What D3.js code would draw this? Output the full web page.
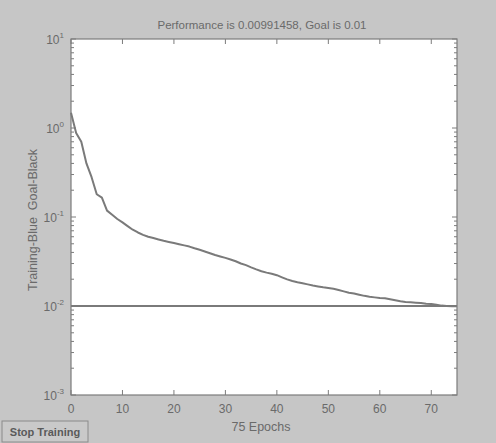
<!DOCTYPE html>
<html>
<head>
<meta charset="utf-8">
<script src="https://cdn.jsdelivr.net/npm/d3@7"></script>
<style>
  html, body { margin: 0; padding: 0; background: #c6c6c6; }
  svg { display: block; }
  text { font-family: "Liberation Sans", Arial, sans-serif; fill: #6a6a6a; white-space: pre; }
</style>
</head>
<body>
<script>
// Training performance per epoch (mean squared error)
const epochs = d3.range(0, 76);
const performance = [
  1.48, 0.88, 0.70, 0.40, 0.28, 0.18, 0.165, 0.118, 0.106, 0.095,
  0.087, 0.079, 0.072, 0.067, 0.063, 0.060, 0.058, 0.056, 0.054, 0.0525,
  0.0510, 0.0495, 0.0480, 0.0465, 0.0445, 0.0428, 0.0410, 0.0392, 0.0374, 0.0360,
  0.0347, 0.0333, 0.0318, 0.0300, 0.0288, 0.0272, 0.0258, 0.0246, 0.0237, 0.0230,
  0.0222, 0.0210, 0.0199, 0.0191, 0.0185, 0.0180, 0.0175, 0.0170, 0.0166, 0.0162,
  0.0159, 0.0156, 0.0151, 0.0146, 0.0141, 0.0138, 0.0134, 0.0130, 0.0127, 0.0125,
  0.0123, 0.0122, 0.0119, 0.0116, 0.0113, 0.0111, 0.0110, 0.0109, 0.0108, 0.0106,
  0.0105, 0.0103, 0.0101, 0.0100, 0.00995, 0.00991458
];
const goal = 0.01;
const xTicks = [0, 10, 20, 30, 40, 50, 60, 70];
const yExponents = [1, 0, -1, -2, -3];
const titleText = "Performance is 0.00991458, Goal is 0.01";
const xLabelText = "75 Epochs";
const yLabelText = "Training-Blue  Goal-Black";
const buttonText = "Stop Training";

const W = 496, H = 443;
const m = { left: 71, right: 39, top: 39, bottom: 48 };
const pw = W - m.left - m.right, ph = H - m.top - m.bottom;

const svg = d3.select("body").append("svg").attr("width", W).attr("height", H);

const x = d3.scaleLinear().domain([0, 75]).range([m.left, m.left + pw]);
const y = d3.scaleLog().domain([1e-3, 1e1]).range([m.top + ph, m.top]);

const axisColor = "#7c7c7c";
const lineColor = "#7a7a7a";

// plot area
svg.append("rect")
  .attr("x", m.left).attr("y", m.top).attr("width", pw).attr("height", ph)
  .attr("fill", "#ffffff").attr("stroke", axisColor).attr("stroke-width", 1.2);

// log-axis minor ticks (left and right, pointing inward)
const minor = [];
for (let e = -3; e < 1; e++) for (let k = 2; k <= 9; k++) minor.push(k * Math.pow(10, e));
const tickG = svg.append("g").attr("stroke", axisColor).attr("stroke-width", 1);
minor.forEach(v => {
  tickG.append("line").attr("x1", m.left).attr("x2", m.left + 3).attr("y1", y(v)).attr("y2", y(v));
  tickG.append("line").attr("x1", m.left + pw).attr("x2", m.left + pw - 3).attr("y1", y(v)).attr("y2", y(v));
});
yExponents.forEach(e => {
  const v = Math.pow(10, e);
  tickG.append("line").attr("x1", m.left).attr("x2", m.left + 5).attr("y1", y(v)).attr("y2", y(v));
  tickG.append("line").attr("x1", m.left + pw).attr("x2", m.left + pw - 5).attr("y1", y(v)).attr("y2", y(v));
});
xTicks.forEach(t => {
  tickG.append("line").attr("x1", x(t)).attr("x2", x(t)).attr("y1", m.top + ph).attr("y2", m.top + ph - 5);
  tickG.append("line").attr("x1", x(t)).attr("x2", x(t)).attr("y1", m.top).attr("y2", m.top + 5);
});

// y tick labels as 10 with superscript exponent
yExponents.forEach(e => {
  const v = Math.pow(10, e);
  const t = svg.append("text")
    .attr("x", m.left - 7).attr("y", y(v) + 5)
    .attr("text-anchor", "end").attr("font-size", 12);
  t.append("tspan").text("10");
  t.append("tspan").attr("dy", -6).attr("font-size", 8).text(e);
});

// x tick labels
svg.append("g").selectAll("text").data(xTicks).join("text")
  .attr("x", d => x(d)).attr("y", m.top + ph + 18)
  .attr("text-anchor", "middle").attr("font-size", 12)
  .text(d => d);

// goal line
svg.append("path")
  .datum([0, 75])
  .attr("fill", "none").attr("stroke", lineColor).attr("stroke-width", 2)
  .attr("d", d3.line().x(d => x(d)).y(() => y(goal)));

// training curve
svg.append("path")
  .datum(epochs.map((e, i) => [e, performance[i]]))
  .attr("fill", "none").attr("stroke", lineColor).attr("stroke-width", 2)
  .attr("stroke-linejoin", "round")
  .attr("d", d3.line().x(d => x(d[0])).y(d => y(d[1])));

// title and axis labels
svg.append("text")
  .attr("x", m.left + pw / 2 - 2).attr("y", 29)
  .attr("text-anchor", "middle").attr("font-size", 11.5)
  .text(titleText);

svg.append("text")
  .attr("x", m.left + pw / 2 - 3).attr("y", 431)
  .attr("text-anchor", "middle").attr("font-size", 12.5)
  .text(xLabelText);

svg.append("text")
  .attr("transform", `translate(37,${m.top + ph / 2 + 3}) rotate(-90)`)
  .attr("text-anchor", "middle").attr("font-size", 12.5)
  .text(yLabelText);

// stop button
const btn = svg.append("g").attr("transform", "translate(2,421)");
btn.append("rect").attr("width", 86).attr("height", 21)
  .attr("fill", "#c9c9c9").attr("stroke", "#8a8a8a").attr("stroke-width", 1);
btn.append("text").attr("x", 43).attr("y", 15)
  .attr("text-anchor", "middle").attr("font-size", 11).attr("font-weight", "bold")
  .style("fill", "#5a5a5a")
  .text(buttonText);
</script>
</body>
</html>
